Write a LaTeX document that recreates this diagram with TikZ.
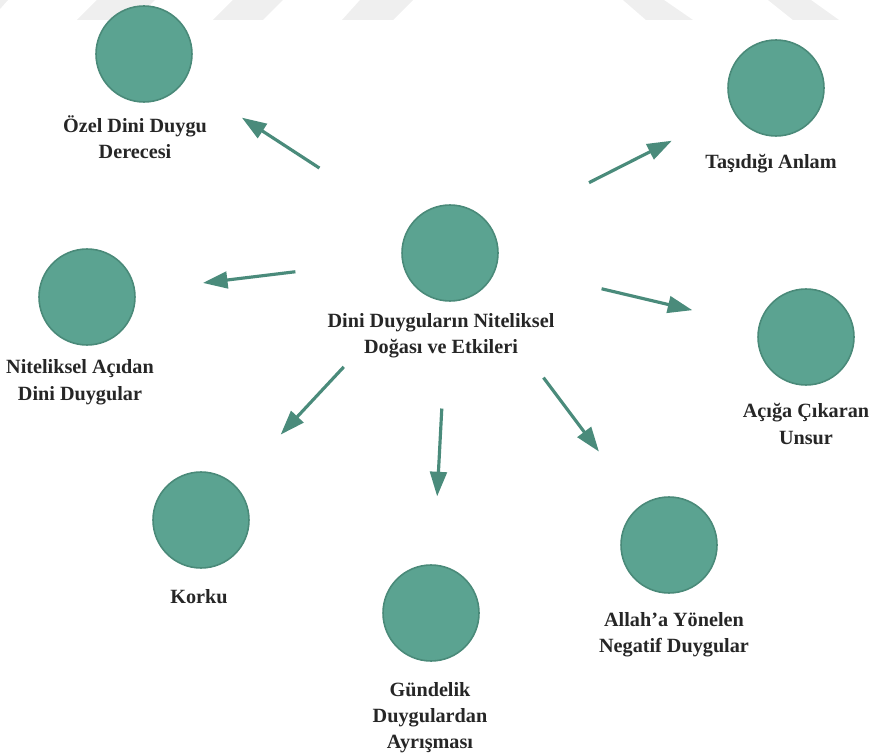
\documentclass[tikz,border=0pt]{standalone}
\usepackage{fontspec}
\setmainfont{Liberation Serif}
\usetikzlibrary{arrows.meta}

\definecolor{topicfill}{HTML}{5BA391}
\definecolor{topicline}{HTML}{4A8A79}
\definecolor{arrowcol}{HTML}{4A8B7B}
\definecolor{labelcol}{HTML}{262626}
\definecolor{markgray}{HTML}{EFEFEF}

\tikzset{
  topic/.style={circle, fill=topicfill, draw=topicline, line width=0.9pt, minimum size=1.92cm, inner sep=0pt},
  lbl/.style={anchor=base, align=center, inner sep=0pt, text=labelcol, font=\fontsize{11.5}{14.8}\selectfont\bfseries},
  link/.style={arrowcol, line width=1.8pt, -{Triangle[length=14pt, width=9.5pt]}, shorten <=2.14cm, shorten >=1.36cm}
}

\begin{document}
\begin{tikzpicture}[x=0.02cm, y=-0.02cm]

% Picture frame (871 x 756)
\useasboundingbox (0,0) rectangle (871,756);

% Faint watermark stripes at the top
\fill[markgray] (0,0) -- (8,0) -- (0,9) -- cycle;
\fill[markgray] (97,0) -- (155,0) -- (135,20) -- (77,20) -- cycle;
\fill[markgray] (233,0) -- (283,0) -- (263,20) -- (213,20) -- cycle;
\fill[markgray] (360,0) -- (413,0) -- (393,20) -- (342,20) -- cycle;
\fill[markgray] (623,0) -- (664,0) -- (693,20) -- (646,20) -- cycle;
\fill[markgray] (768,0) -- (811,0) -- (839,20) -- (793,20) -- cycle;

% Central circle
\node[topic] (doga) at (450,253) {};

% Outer circles
\node[topic] (ozel) at (144,54) {};
\node[topic] (anlam) at (776,88) {};
\node[topic] (nitel) at (87,297) {};
\node[topic] (unsur) at (806,337) {};
\node[topic] (korku) at (201,520) {};
\node[topic] (gundelik) at (431,613) {};
\node[topic] (negatif) at (669,545) {};

% Labels under the circles (base = baseline of the last line)
\node[lbl] (dogaL) at (441,354) {Dini Duyguların Niteliksel\\Doğası ve Etkileri};
\node[lbl] (ozelL) at (135,159) {Özel Dini Duygu\\Derecesi};
\node[lbl] (anlamL) at (771,169) {Taşıdığı Anlam};
\node[lbl] (nitelL) at (80,400) {Niteliksel Açıdan\\Dini Duygular};
\node[lbl] (unsurL) at (806,444) {Açığa Çıkaran\\Unsur};
\node[lbl] (korkuL) at (199,603) {Korku};
\node[lbl] (gundelikL) at (430,748) {Gündelik\\Duygulardan\\Ayrışması};
\node[lbl] (negatifL) at (674,652) {Allah’a Yönelen\\Negatif Duygular};

% Arrows from the centre outwards
\foreach \t in {ozel, anlam, nitel, unsur, korku, gundelik, negatif}
  \draw[link] (doga) -- (\t);

\end{tikzpicture}
\end{document}
